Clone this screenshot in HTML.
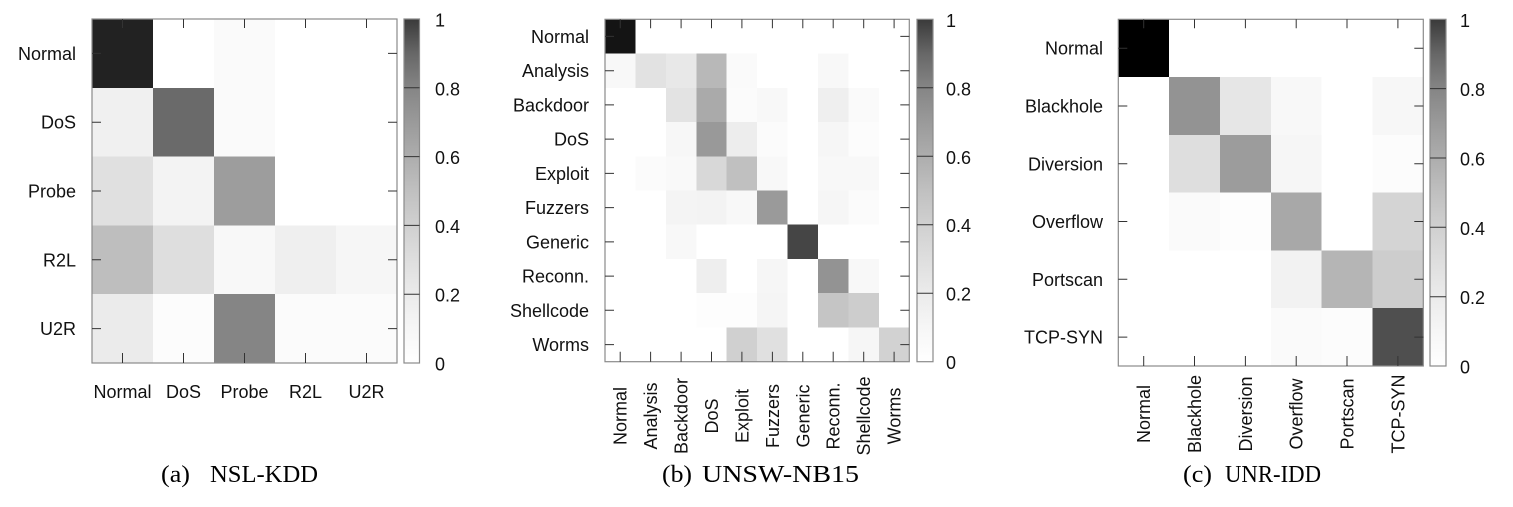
<!DOCTYPE html>
<html>
<head>
<meta charset="utf-8">
<style>
  html,body{margin:0;padding:0;background:#fff;}
  svg{display:block;}
  text{font-family:"Liberation Sans",Arial,sans-serif;font-size:18px;fill:#111;}
  .cap{font-family:"Liberation Serif","Times New Roman",serif;font-size:24px;fill:#000;}
</style>
</head>
<body>
<svg width="1513" height="507" viewBox="0 0 1513 507" xmlns="http://www.w3.org/2000/svg">
<defs>
  <linearGradient id="cb" x1="0" y1="1" x2="0" y2="0">
    <stop offset="0" stop-color="#ffffff"/>
    <stop offset="0.1" stop-color="#f6f6f6"/>
    <stop offset="0.2" stop-color="#ebebeb"/>
    <stop offset="0.3" stop-color="#dedede"/>
    <stop offset="0.4" stop-color="#d0d0d0"/>
    <stop offset="0.5" stop-color="#c0c0c0"/>
    <stop offset="0.6" stop-color="#adadad"/>
    <stop offset="0.7" stop-color="#9a9a9a"/>
    <stop offset="0.8" stop-color="#858585"/>
    <stop offset="0.9" stop-color="#676767"/>
    <stop offset="1" stop-color="#3a3a3a"/>
  </linearGradient>
</defs>
<rect width="1513" height="507" fill="#fff"/>

<!-- ================= Panel (a) ================= -->
<g transform="translate(92,19) scale(61,68.8)" shape-rendering="crispEdges">
  <rect x="0" y="0" width="1" height="1" fill="#222"/>
  <rect x="2" y="0" width="1" height="1" fill="#fafafa"/>
  <rect x="0" y="1" width="1" height="1" fill="#f0f0f0"/>
  <rect x="1" y="1" width="1" height="1" fill="#6a6a6a"/>
  <rect x="2" y="1" width="1" height="1" fill="#fafafa"/>
  <rect x="0" y="2" width="1" height="1" fill="#e0e0e0"/>
  <rect x="1" y="2" width="1" height="1" fill="#f3f3f3"/>
  <rect x="2" y="2" width="1" height="1" fill="#9d9d9d"/>
  <rect x="0" y="3" width="1" height="1" fill="#bebebe"/>
  <rect x="1" y="3" width="1" height="1" fill="#dedede"/>
  <rect x="2" y="3" width="1" height="1" fill="#f8f8f8"/>
  <rect x="3" y="3" width="1" height="1" fill="#efefef"/>
  <rect x="4" y="3" width="1" height="1" fill="#f6f6f6"/>
  <rect x="0" y="4" width="1" height="1" fill="#ebebeb"/>
  <rect x="1" y="4" width="1" height="1" fill="#fcfcfc"/>
  <rect x="2" y="4" width="1" height="1" fill="#858585"/>
  <rect x="3" y="4" width="1" height="1" fill="#fbfbfb"/>
  <rect x="4" y="4" width="1" height="1" fill="#fbfbfb"/>
</g>
<rect x="92" y="19" width="305" height="344" fill="none" stroke="#8a8a8a" stroke-width="1.2"/>
<g stroke="#333" stroke-width="1">
  <path d="M122.5 19v9M183.5 19v9M244.5 19v9M305.5 19v9M366.5 19v9"/>
  <path d="M122.5 363v-10M183.5 363v-10M244.5 363v-10M305.5 363v-10M366.5 363v-10"/>
  <path d="M92 53.4h9M92 122.2h9M92 191h9M92 259.8h9M92 328.6h9"/>
  <path d="M397 53.4h-9M397 122.2h-9M397 191h-9M397 259.8h-9M397 328.6h-9"/>
</g>
<g text-anchor="end">
  <text x="76" y="60">Normal</text>
  <text x="76" y="128.7">DoS</text>
  <text x="76" y="197.5">Probe</text>
  <text x="76" y="266.3">R2L</text>
  <text x="76" y="335.1">U2R</text>
</g>
<g text-anchor="middle">
  <text x="122.5" y="398">Normal</text>
  <text x="183.5" y="398">DoS</text>
  <text x="244.5" y="398">Probe</text>
  <text x="305.5" y="398">R2L</text>
  <text x="366.5" y="398">U2R</text>
</g>
<!-- colorbar a -->
<rect x="404" y="19" width="15.5" height="344" fill="url(#cb)" stroke="#8a8a8a" stroke-width="1.2"/>
<path d="M404 87.8h15.5M404 156.6h15.5M404 225.4h15.5M404 294.2h15.5" stroke="#333" stroke-width="1"/>
<g>
  <text x="435" y="26.5">1</text>
  <text x="435" y="95.3">0.8</text>
  <text x="435" y="164.1">0.6</text>
  <text x="435" y="232.9">0.4</text>
  <text x="435" y="301.7">0.2</text>
  <text x="435" y="370.5">0</text>
</g>

<!-- ================= Panel (b) ================= -->
<g transform="translate(605,19.3) scale(30.43,34.24)" shape-rendering="crispEdges">
  <rect x="0" y="0" width="1" height="1" fill="#141414"/>
  <!-- Analysis -->
  <rect x="0" y="1" width="1" height="1" fill="#f8f8f8"/>
  <rect x="1" y="1" width="1" height="1" fill="#e2e2e2"/>
  <rect x="2" y="1" width="1" height="1" fill="#e8e8e8"/>
  <rect x="3" y="1" width="1" height="1" fill="#b8b8b8"/>
  <rect x="4" y="1" width="1" height="1" fill="#fafafa"/>
  <rect x="7" y="1" width="1" height="1" fill="#f8f8f8"/>
  <!-- Backdoor -->
  <rect x="2" y="2" width="1" height="1" fill="#e3e3e3"/>
  <rect x="3" y="2" width="1" height="1" fill="#aaaaaa"/>
  <rect x="4" y="2" width="1" height="1" fill="#fbfbfb"/>
  <rect x="5" y="2" width="1" height="1" fill="#f8f8f8"/>
  <rect x="7" y="2" width="1" height="1" fill="#efefef"/>
  <rect x="8" y="2" width="1" height="1" fill="#fafafa"/>
  <!-- DoS -->
  <rect x="2" y="3" width="1" height="1" fill="#f7f7f7"/>
  <rect x="3" y="3" width="1" height="1" fill="#999999"/>
  <rect x="4" y="3" width="1" height="1" fill="#ededed"/>
  <rect x="5" y="3" width="1" height="1" fill="#fbfbfb"/>
  <rect x="7" y="3" width="1" height="1" fill="#f6f6f6"/>
  <rect x="8" y="3" width="1" height="1" fill="#fcfcfc"/>
  <!-- Exploit -->
  <rect x="1" y="4" width="1" height="1" fill="#fbfbfb"/>
  <rect x="2" y="4" width="1" height="1" fill="#f9f9f9"/>
  <rect x="3" y="4" width="1" height="1" fill="#d8d8d8"/>
  <rect x="4" y="4" width="1" height="1" fill="#c0c0c0"/>
  <rect x="5" y="4" width="1" height="1" fill="#f8f8f8"/>
  <rect x="7" y="4" width="1" height="1" fill="#f8f8f8"/>
  <rect x="8" y="4" width="1" height="1" fill="#f8f8f8"/>
  <!-- Fuzzers -->
  <rect x="2" y="5" width="1" height="1" fill="#f4f4f4"/>
  <rect x="3" y="5" width="1" height="1" fill="#f3f3f3"/>
  <rect x="4" y="5" width="1" height="1" fill="#f8f8f8"/>
  <rect x="5" y="5" width="1" height="1" fill="#9a9a9a"/>
  <rect x="7" y="5" width="1" height="1" fill="#f6f6f6"/>
  <rect x="8" y="5" width="1" height="1" fill="#fbfbfb"/>
  <!-- Generic -->
  <rect x="2" y="6" width="1" height="1" fill="#f8f8f8"/>
  <rect x="6" y="6" width="1" height="1" fill="#454545"/>
  <!-- Reconn -->
  <rect x="3" y="7" width="1" height="1" fill="#eeeeee"/>
  <rect x="5" y="7" width="1" height="1" fill="#f6f6f6"/>
  <rect x="7" y="7" width="1" height="1" fill="#939393"/>
  <rect x="8" y="7" width="1" height="1" fill="#f8f8f8"/>
  <!-- Shellcode -->
  <rect x="3" y="8" width="1" height="1" fill="#fdfdfd"/>
  <rect x="4" y="8" width="1" height="1" fill="#fdfdfd"/>
  <rect x="5" y="8" width="1" height="1" fill="#f5f5f5"/>
  <rect x="7" y="8" width="1" height="1" fill="#c5c5c5"/>
  <rect x="8" y="8" width="1" height="1" fill="#cdcdcd"/>
  <!-- Worms -->
  <rect x="4" y="9" width="1" height="1" fill="#d0d0d0"/>
  <rect x="5" y="9" width="1" height="1" fill="#e0e0e0"/>
  <rect x="8" y="9" width="1" height="1" fill="#f6f6f6"/>
  <rect x="9" y="9" width="1" height="1" fill="#d2d2d2"/>
</g>
<rect x="605" y="19.3" width="304.3" height="342.4" fill="none" stroke="#8a8a8a" stroke-width="1.2"/>
<g stroke="#333" stroke-width="1">
  <path d="M620.2 19.3v9M650.6 19.3v9M681.1 19.3v9M711.5 19.3v9M741.9 19.3v9M772.4 19.3v9M802.8 19.3v9M833.2 19.3v9M863.7 19.3v9M894.1 19.3v9"/>
  <path d="M620.2 361.7v-10M650.6 361.7v-10M681.1 361.7v-10M711.5 361.7v-10M741.9 361.7v-10M772.4 361.7v-10M802.8 361.7v-10M833.2 361.7v-10M863.7 361.7v-10M894.1 361.7v-10"/>
  <path d="M605 36.4h9M605 70.7h9M605 104.9h9M605 139.1h9M605 173.4h9M605 207.6h9M605 241.9h9M605 276.1h9M605 310.3h9M605 344.6h9"/>
  <path d="M909.3 36.4h-9M909.3 70.7h-9M909.3 104.9h-9M909.3 139.1h-9M909.3 173.4h-9M909.3 207.6h-9M909.3 241.9h-9M909.3 276.1h-9M909.3 310.3h-9M909.3 344.6h-9"/>
</g>
<g text-anchor="end">
  <text x="589" y="42.9">Normal</text>
  <text x="589" y="77.2">Analysis</text>
  <text x="589" y="111.4">Backdoor</text>
  <text x="589" y="145.6">DoS</text>
  <text x="589" y="179.9">Exploit</text>
  <text x="589" y="214.1">Fuzzers</text>
  <text x="589" y="248.4">Generic</text>
  <text x="589" y="282.6">Reconn.</text>
  <text x="589" y="316.8">Shellcode</text>
  <text x="589" y="351.1">Worms</text>
</g>
<g text-anchor="middle">
  <text transform="translate(626.7,416) rotate(-90)">Normal</text>
  <text transform="translate(657.1,416) rotate(-90)">Analysis</text>
  <text transform="translate(687.6,416) rotate(-90)">Backdoor</text>
  <text transform="translate(718,416) rotate(-90)">DoS</text>
  <text transform="translate(748.4,416) rotate(-90)">Exploit</text>
  <text transform="translate(778.9,416) rotate(-90)">Fuzzers</text>
  <text transform="translate(809.3,416) rotate(-90)">Generic</text>
  <text transform="translate(839.7,416) rotate(-90)">Reconn.</text>
  <text transform="translate(870.2,416) rotate(-90)">Shellcode</text>
  <text transform="translate(900.6,416) rotate(-90)">Worms</text>
</g>
<!-- colorbar b -->
<rect x="917" y="19.3" width="16" height="342.4" fill="url(#cb)" stroke="#8a8a8a" stroke-width="1.2"/>
<path d="M917 87.8h16M917 156.3h16M917 224.7h16M917 293.2h16" stroke="#333" stroke-width="1"/>
<g>
  <text x="946" y="26.8">1</text>
  <text x="946" y="95.3">0.8</text>
  <text x="946" y="163.8">0.6</text>
  <text x="946" y="232.2">0.4</text>
  <text x="946" y="300.7">0.2</text>
  <text x="946" y="369.2">0</text>
</g>

<!-- ================= Panel (c) ================= -->
<g transform="translate(1118.3,19.3) scale(50.83,57.78)" shape-rendering="crispEdges">
  <rect x="0" y="0" width="1" height="1" fill="#000"/>
  <!-- Blackhole -->
  <rect x="1" y="1" width="1" height="1" fill="#939393"/>
  <rect x="2" y="1" width="1" height="1" fill="#e6e6e6"/>
  <rect x="3" y="1" width="1" height="1" fill="#f8f8f8"/>
  <rect x="5" y="1" width="1" height="1" fill="#f7f7f7"/>
  <!-- Diversion -->
  <rect x="1" y="2" width="1" height="1" fill="#dedede"/>
  <rect x="2" y="2" width="1" height="1" fill="#9c9c9c"/>
  <rect x="3" y="2" width="1" height="1" fill="#f6f6f6"/>
  <rect x="5" y="2" width="1" height="1" fill="#fcfcfc"/>
  <!-- Overflow -->
  <rect x="1" y="3" width="1" height="1" fill="#fafafa"/>
  <rect x="2" y="3" width="1" height="1" fill="#fdfdfd"/>
  <rect x="3" y="3" width="1" height="1" fill="#a8a8a8"/>
  <rect x="5" y="3" width="1" height="1" fill="#d4d4d4"/>
  <!-- Portscan -->
  <rect x="3" y="4" width="1" height="1" fill="#f2f2f2"/>
  <rect x="4" y="4" width="1" height="1" fill="#b5b5b5"/>
  <rect x="5" y="4" width="1" height="1" fill="#cdcdcd"/>
  <!-- TCP-SYN -->
  <rect x="3" y="5" width="1" height="1" fill="#fafafa"/>
  <rect x="4" y="5" width="1" height="1" fill="#fcfcfc"/>
  <rect x="5" y="5" width="1" height="1" fill="#4f4f4f"/>
</g>
<rect x="1118.3" y="19.3" width="305" height="346.7" fill="none" stroke="#8a8a8a" stroke-width="1.2"/>
<g stroke="#333" stroke-width="1">
  <path d="M1143.7 19.3v9M1194.5 19.3v9M1245.4 19.3v9M1296.2 19.3v9M1347 19.3v9M1397.9 19.3v9"/>
  <path d="M1143.7 366v-10M1194.5 366v-10M1245.4 366v-10M1296.2 366v-10M1347 366v-10M1397.9 366v-10"/>
  <path d="M1118.3 48.2h9M1118.3 106h9M1118.3 163.8h9M1118.3 221.5h9M1118.3 279.3h9M1118.3 337.1h9"/>
  <path d="M1423.3 48.2h-9M1423.3 106h-9M1423.3 163.8h-9M1423.3 221.5h-9M1423.3 279.3h-9M1423.3 337.1h-9"/>
</g>
<g text-anchor="end">
  <text x="1103" y="54.7">Normal</text>
  <text x="1103" y="112.5">Blackhole</text>
  <text x="1103" y="170.3">Diversion</text>
  <text x="1103" y="228">Overflow</text>
  <text x="1103" y="285.8">Portscan</text>
  <text x="1103" y="343.6">TCP-SYN</text>
</g>
<g text-anchor="middle">
  <text transform="translate(1150.2,414) rotate(-90)">Normal</text>
  <text transform="translate(1201,414) rotate(-90)">Blackhole</text>
  <text transform="translate(1251.9,414) rotate(-90)">Diversion</text>
  <text transform="translate(1302.7,414) rotate(-90)">Overflow</text>
  <text transform="translate(1353.5,414) rotate(-90)">Portscan</text>
  <text transform="translate(1404.4,414) rotate(-90)">TCP-SYN</text>
</g>
<!-- colorbar c -->
<rect x="1430" y="19.3" width="16" height="346.7" fill="url(#cb)" stroke="#8a8a8a" stroke-width="1.2"/>
<path d="M1430 88.6h16M1430 158h16M1430 227.3h16M1430 296.7h16" stroke="#333" stroke-width="1"/>
<g>
  <text x="1460" y="26.8">1</text>
  <text x="1460" y="96.1">0.8</text>
  <text x="1460" y="165.5">0.6</text>
  <text x="1460" y="234.8">0.4</text>
  <text x="1460" y="304.2">0.2</text>
  <text x="1460" y="373.5">0</text>
</g>

<!-- ================= Captions ================= -->
<text class="cap" x="161" y="482" textLength="29" lengthAdjust="spacingAndGlyphs">(a)</text>
<text class="cap" x="210" y="482" textLength="108" lengthAdjust="spacingAndGlyphs">NSL-KDD</text>
<text class="cap" x="662" y="482" textLength="30" lengthAdjust="spacingAndGlyphs">(b)</text>
<text class="cap" x="702" y="482" textLength="157" lengthAdjust="spacingAndGlyphs">UNSW-NB15</text>
<text class="cap" x="1183" y="482" textLength="29" lengthAdjust="spacingAndGlyphs">(c)</text>
<text class="cap" x="1225" y="482" textLength="96" lengthAdjust="spacingAndGlyphs">UNR-IDD</text>
</svg>
</body>
</html>
